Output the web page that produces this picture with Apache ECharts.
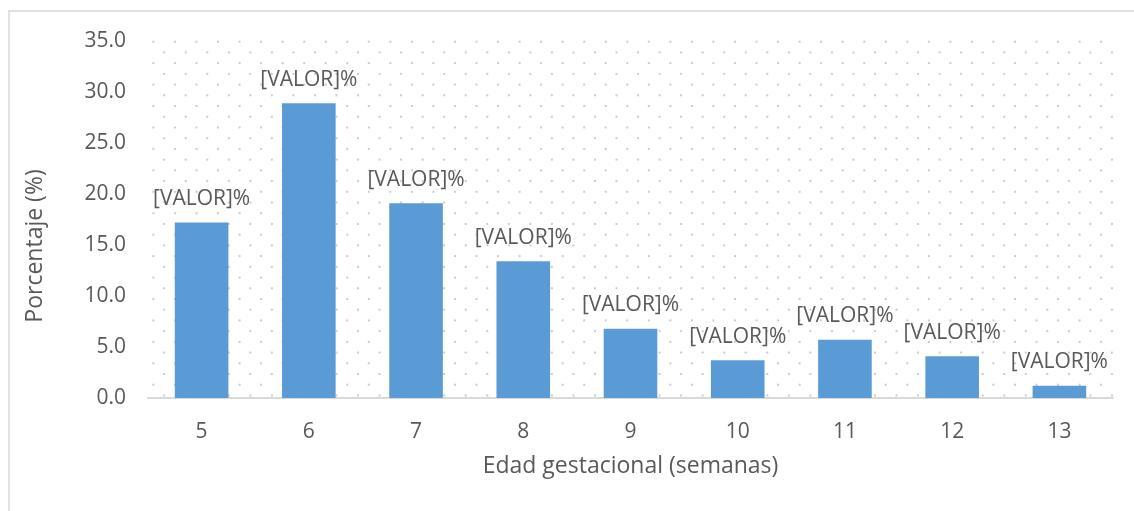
<!DOCTYPE html>
<html>
<head>
<meta charset="utf-8">
<script src="https://cdn.jsdelivr.net/npm/echarts@6/dist/echarts.min.js"></script>
<style>
  html, body { margin: 0; padding: 0; background: #fff; }
  #chart_1 { width: 1134px; height: 511px; }
</style>
</head>
<body>
<div id="chart_1"></div>
<script>
// semanas de edad gestacional
var categories = ['5', '6', '7', '8', '9', '10', '11', '12', '13'];
// porcentaje por semana
var percentages = [17.2, 28.9, 19.1, 13.4, 6.8, 3.7, 5.7, 4.1, 1.2];
var yTicks = [0, 5, 10, 15, 20, 25, 30, 35];

var textColor = '#595959';
var fontFamily = '"Open Sans", "Noto Sans", sans-serif';

//fondo punteado del area de trazado
function dotCanvas() {
    var cv = document.createElement('canvas');
    cv.width = 1134;
    cv.height = 511;
    var ctx = cv.getContext('2d');
    ctx.fillStyle = '#c7cbdd';
    for (var r = 0; 41.7 + r * 10.72 <= 397; r++) {
        var y = 41.7 + r * 10.72;
        for (var j = r % 2; 153.4 + j * 10.77 <= 1112; j += 2) {
            var x = 153.4 + j * 10.77;
            ctx.fillRect(x - 1, y - 1, 2, 2);
        }
    }
    return cv;
}

var myChart = echarts.init(document.getElementById('chart_1'));
var option = {
    animation: false,
    backgroundColor: '#fff',
    textStyle: {fontFamily: fontFamily},
    grid: {
        left: 148,
        right: 21,
        top: 41,
        bottom: 113
    },
    graphic: [
        {
            type: 'image',
            left: 0,
            top: 0,
            z: -10,
            silent: true,
            style: {image: dotCanvas(), width: 1134, height: 511}
        },
        {
            type: 'rect',
            z: -5,
            silent: true,
            shape: {x: 9, y: 11, width: 1200, height: 600},
            style: {fill: 'none', stroke: '#d9d9d9', lineWidth: 1.5}
        },
        {
            type: 'text',
            x: 35,
            y: 246,
            rotation: Math.PI / 2,
            silent: true,
            style: {
                text: 'Porcentaje (%)',
                fill: textColor,
                font: '23px ' + fontFamily,
                align: 'center',
                verticalAlign: 'middle'
            }
        }
    ],
    xAxis: {
        type: 'category',
        data: categories,
        name: 'Edad gestacional (semanas)',
        nameLocation: 'middle',
        nameGap: 57,
        nameTextStyle: {color: textColor, fontSize: 23, fontFamily: fontFamily},
        axisLine: {lineStyle: {color: '#d9d9d9', width: 2}},
        axisTick: {show: false},
        axisLabel: {color: textColor, fontSize: 21, margin: 24, fontFamily: fontFamily}
    },
    yAxis: {
        type: 'value',
        min: yTicks[0],
        max: yTicks[yTicks.length - 1],
        interval: 5,
        axisLine: {show: false},
        axisTick: {show: false},
        splitLine: {show: false},
        axisLabel: {
            color: textColor,
            fontSize: 21,
            margin: 22,
            fontFamily: fontFamily,
            formatter: function (v) {
                return v.toFixed(1);
            }
        }
    },
    series: [
        {
            type: 'bar',
            data: percentages,
            barWidth: '50%',
            itemStyle: {color: '#5b9bd5'},
            label: {
                show: true,
                position: 'top',
                distance: 13,
                color: textColor,
                fontSize: 21,
                fontFamily: fontFamily,
                formatter: '[VALOR]%'
            }
        }
    ]
};

myChart.setOption(option);
</script>
</body>
</html>
